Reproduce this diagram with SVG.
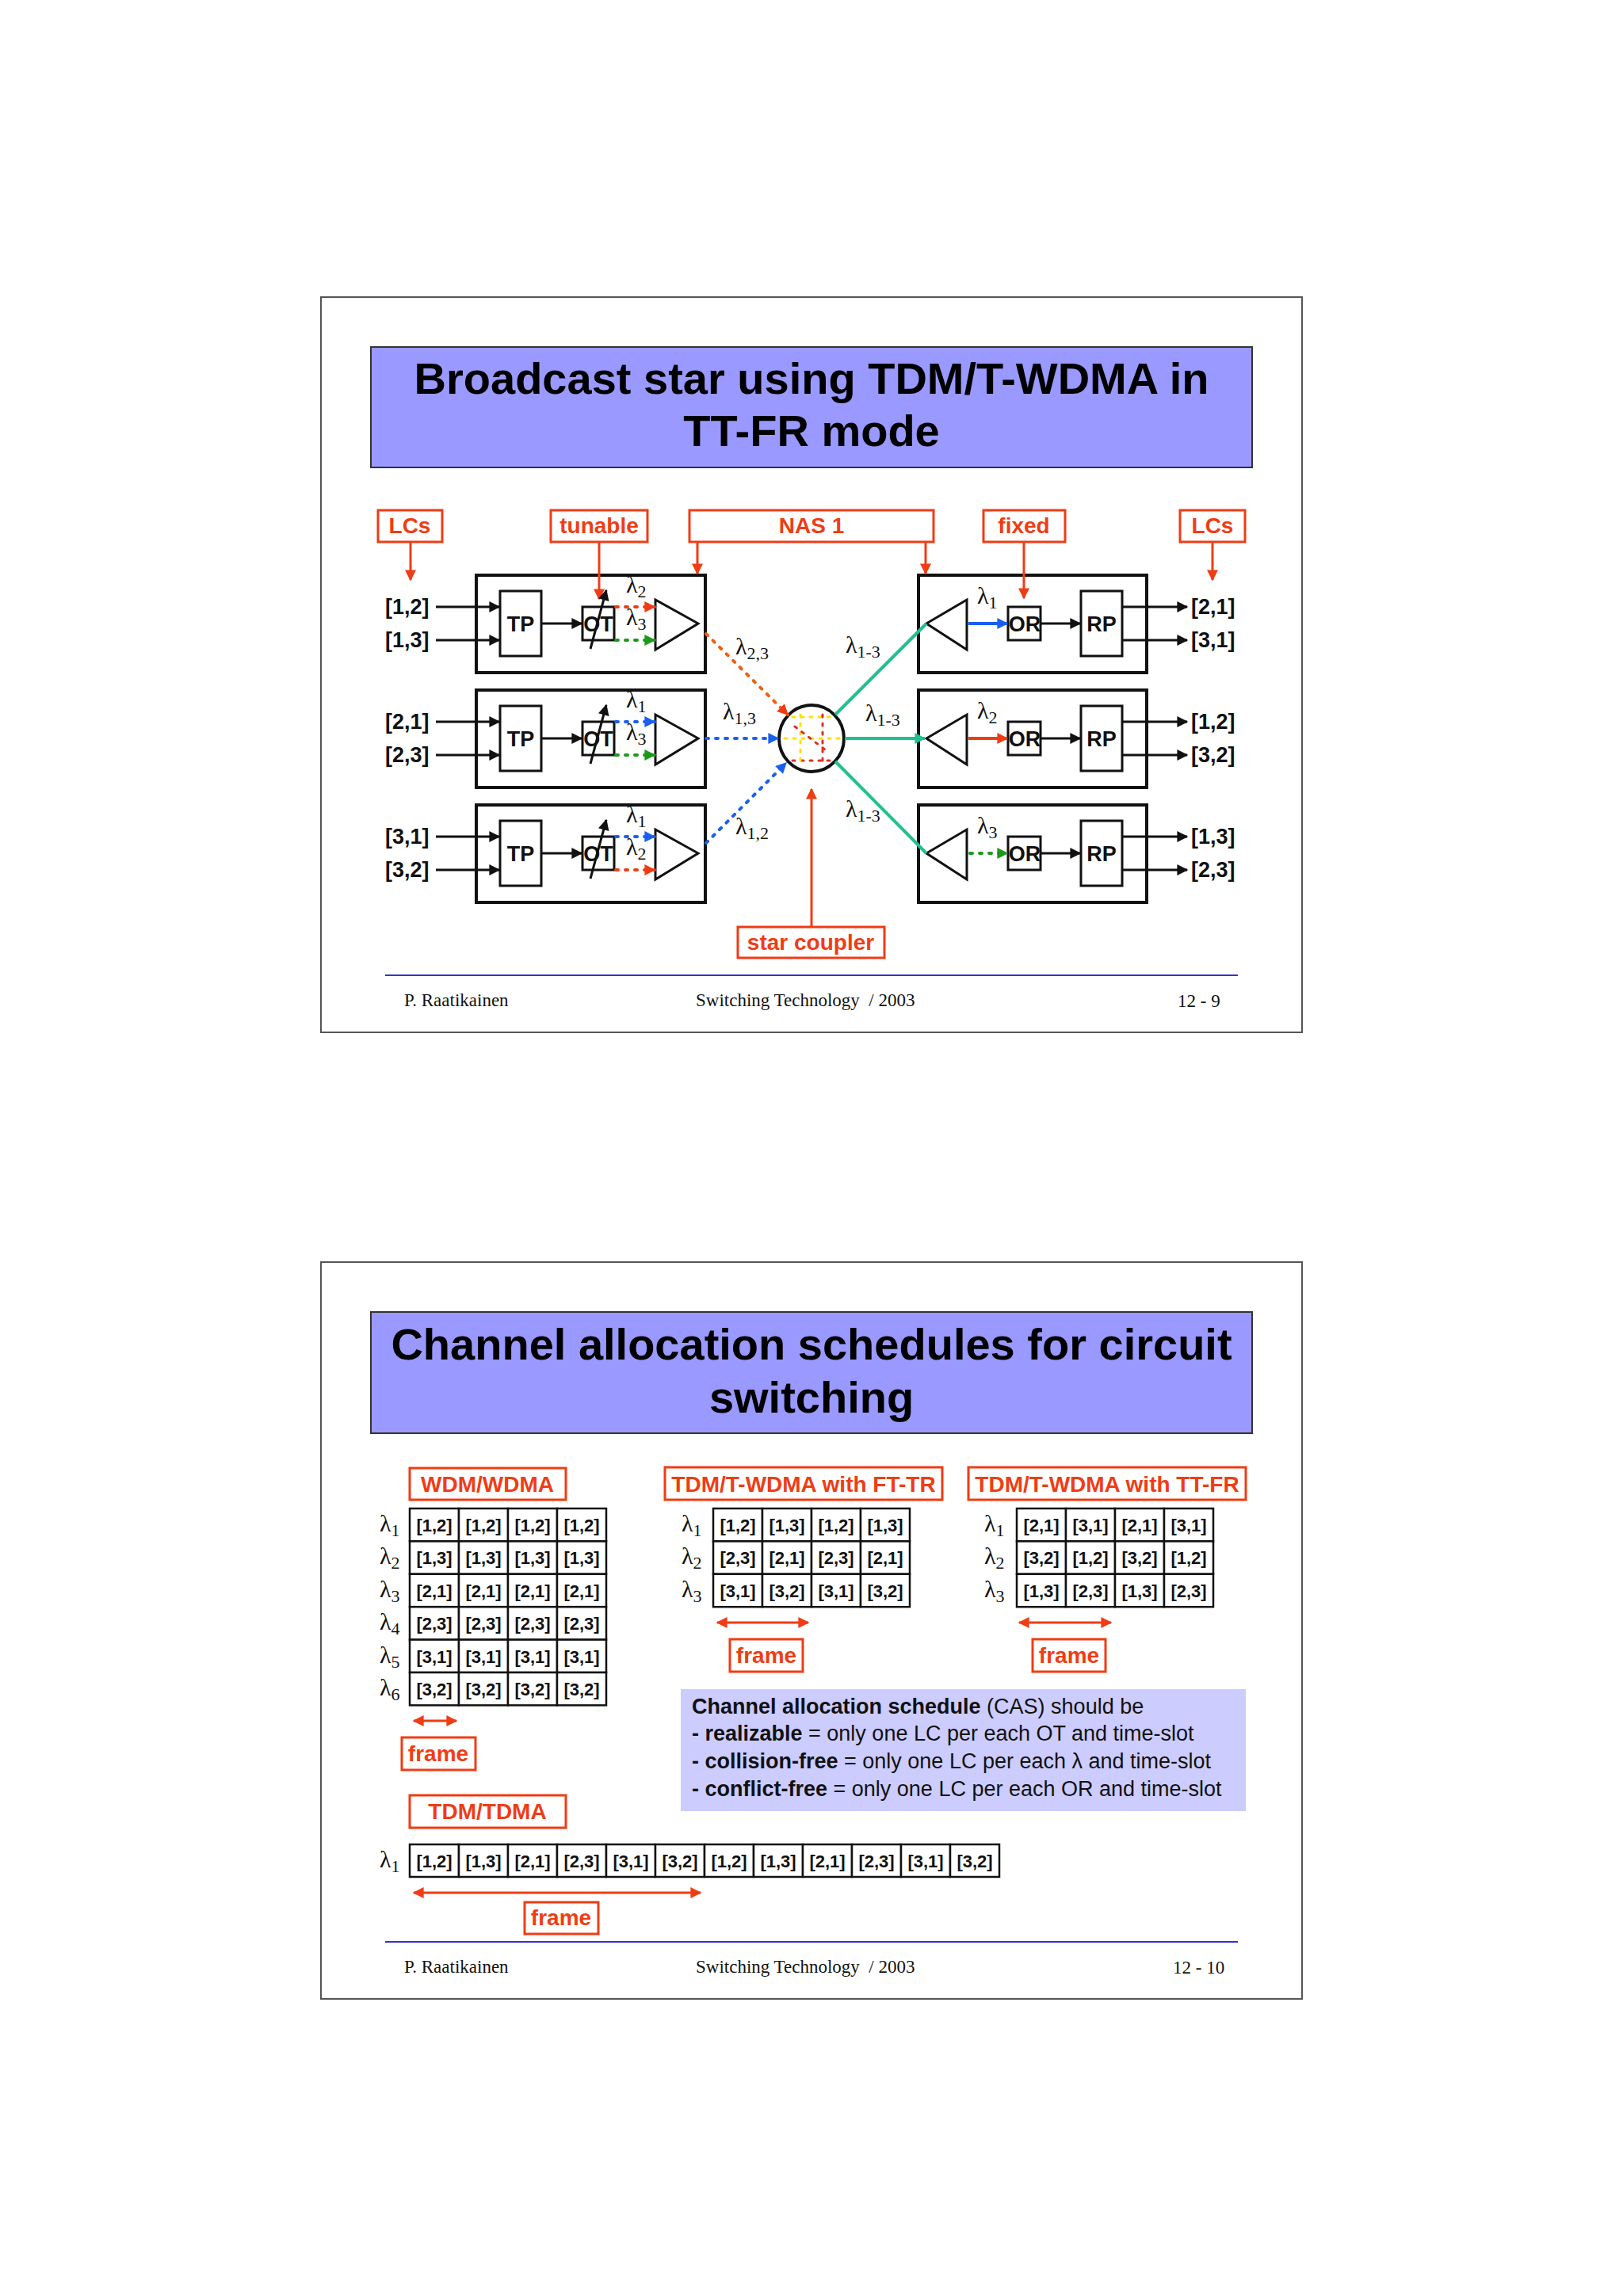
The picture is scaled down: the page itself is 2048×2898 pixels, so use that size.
<svg xmlns="http://www.w3.org/2000/svg" width="2048" height="2898" viewBox="0 0 2048 2898">
<style>
.frm{fill:#fff;stroke:#555;stroke-width:2}
.tbox{fill:#9999ff;stroke:#333;stroke-width:2}
.title{font:bold 56px "Liberation Sans",Arial,sans-serif;fill:#000;text-anchor:middle}
.rbox{fill:#fff;stroke:#f03c14;stroke-width:3}
.rt{font:bold 28px "Liberation Sans",Arial,sans-serif;fill:#f03c14;text-anchor:middle}
.blk{fill:none;stroke:#111;stroke-width:4}
.thin{fill:#fff;stroke:#111;stroke-width:3}
.lb{font:bold 27px "Liberation Sans",Arial,sans-serif;fill:#111}
.lbc{font:bold 27px "Liberation Sans",Arial,sans-serif;fill:#111;text-anchor:middle}
.lam{font:30px "Liberation Serif","Times New Roman",serif;fill:#111}
.sub{font-size:22px}
.ln{stroke:#111;stroke-width:3;fill:none}
.rl{stroke:#f03c14;stroke-width:3;fill:none}
.dot{stroke-width:4;stroke-dasharray:3 9;stroke-linecap:round;fill:none}
.foot{font:23px "Liberation Serif","Times New Roman",serif;fill:#111}
.cell{fill:#fff;stroke:#111;stroke-width:2.5}
.ct{font:bold 22px "Liberation Sans",Arial,sans-serif;fill:#111;text-anchor:middle}
.cas{font:27px "Liberation Sans",Arial,sans-serif;fill:#111}
</style>
<defs>
<marker id="akb" viewBox="0 0 10 10" refX="9" refY="5" markerWidth="16" markerHeight="14" orient="auto" markerUnits="userSpaceOnUse"><path d="M0,0 L10,5 L0,10 z" fill="#111"/></marker>
<marker id="ar" viewBox="0 0 10 10" refX="9" refY="5" markerWidth="16" markerHeight="14" orient="auto" markerUnits="userSpaceOnUse"><path d="M0,0 L10,5 L0,10 z" fill="#f03c14"/></marker>
<marker id="arS" viewBox="0 0 10 10" refX="1" refY="5" markerWidth="16" markerHeight="14" orient="auto" markerUnits="userSpaceOnUse"><path d="M10,0 L0,5 L10,10 z" fill="#f03c14"/></marker>
<marker id="abl" viewBox="0 0 10 10" refX="9" refY="5" markerWidth="16" markerHeight="14" orient="auto" markerUnits="userSpaceOnUse"><path d="M0,0 L10,5 L0,10 z" fill="#1a5ff0"/></marker>
<marker id="agr" viewBox="0 0 10 10" refX="9" refY="5" markerWidth="16" markerHeight="14" orient="auto" markerUnits="userSpaceOnUse"><path d="M0,0 L10,5 L0,10 z" fill="#1a9a1a"/></marker>
<marker id="ate" viewBox="0 0 10 10" refX="9" refY="5" markerWidth="16" markerHeight="14" orient="auto" markerUnits="userSpaceOnUse"><path d="M0,0 L10,5 L0,10 z" fill="#20c090"/></marker>
</defs>
<rect width="2048" height="2898" fill="#fff"/>

<!-- Slide 1 -->
<rect class="frm" x="405" y="375" width="1238" height="928"/>
<g id="title1">
<rect class="tbox" x="468" y="438" width="1112" height="152"/>
<text class="title" x="1024" y="497">Broadcast star using TDM/T-WDMA in</text>
<text class="title" x="1024" y="563">TT-FR mode</text>
</g>

<g id="lbl-lcs-l"><rect class="rbox" x="477" y="644" width="81" height="40"/><text class="rt" x="517" y="673">LCs</text></g>
<g id="lbl-tunable"><rect class="rbox" x="695" y="644" width="122" height="40"/><text class="rt" x="756" y="673">tunable</text></g>
<g id="lbl-nas"><rect class="rbox" x="870" y="644" width="308" height="40"/><text class="rt" x="1024" y="673">NAS 1</text></g>
<g id="lbl-fixed"><rect class="rbox" x="1241" y="644" width="103" height="40"/><text class="rt" x="1292" y="673">fixed</text></g>
<g id="lbl-lcs-r"><rect class="rbox" x="1489" y="644" width="82" height="40"/><text class="rt" x="1530" y="673">LCs</text></g>
<g id="lbl-star"><rect class="rbox" x="931" y="1170" width="185" height="39"/><text class="rt" x="1023" y="1199">star coupler</text></g>

<g id="tx1">
<rect class="blk" x="601" y="726" width="289" height="123"/>
<rect class="thin" x="631" y="746" width="52" height="82"/><text class="lbc" x="657" y="797">TP</text>
<rect class="thin" x="735" y="766" width="40" height="42"/><text class="lbc" x="755" y="797">OT</text>
<polygon class="thin" points="827,757 827,820 881,787"/>
<text class="lb" x="486" y="775">[1,2]</text><text class="lb" x="486" y="817">[1,3]</text>
<text class="lam" x="790" y="748">λ<tspan class="sub" dy="6">2</tspan></text>
<text class="lam" x="790" y="789">λ<tspan class="sub" dy="6">3</tspan></text>
</g>
<g id="tx2">
<rect class="blk" x="601" y="871" width="289" height="123"/>
<rect class="thin" x="631" y="891" width="52" height="82"/><text class="lbc" x="657" y="942">TP</text>
<rect class="thin" x="735" y="911" width="40" height="42"/><text class="lbc" x="755" y="942">OT</text>
<polygon class="thin" points="827,902 827,965 881,932"/>
<text class="lb" x="486" y="920">[2,1]</text><text class="lb" x="486" y="962">[2,3]</text>
<text class="lam" x="790" y="893">λ<tspan class="sub" dy="6">1</tspan></text>
<text class="lam" x="790" y="934">λ<tspan class="sub" dy="6">3</tspan></text>
</g>
<g id="tx3">
<rect class="blk" x="601" y="1016" width="289" height="123"/>
<rect class="thin" x="631" y="1036" width="52" height="82"/><text class="lbc" x="657" y="1087">TP</text>
<rect class="thin" x="735" y="1056" width="40" height="42"/><text class="lbc" x="755" y="1087">OT</text>
<polygon class="thin" points="827,1047 827,1110 881,1077"/>
<text class="lb" x="486" y="1065">[3,1]</text><text class="lb" x="486" y="1107">[3,2]</text>
<text class="lam" x="790" y="1038">λ<tspan class="sub" dy="6">1</tspan></text>
<text class="lam" x="790" y="1079">λ<tspan class="sub" dy="6">2</tspan></text>
</g>

<g id="rx1">
<rect class="blk" x="1159" y="726" width="288" height="123"/>
<polygon class="thin" points="1220,757 1220,820 1169,787"/>
<rect class="thin" x="1272" y="766" width="41" height="42"/><text class="lbc" x="1293" y="797">OR</text>
<rect class="thin" x="1364" y="746" width="52" height="82"/><text class="lbc" x="1390" y="797">RP</text>
<text class="lb" x="1503" y="775">[2,1]</text><text class="lb" x="1503" y="817">[3,1]</text>
<text class="lam" x="1233" y="762">λ<tspan class="sub" dy="6">1</tspan></text>
</g>
<g id="rx2">
<rect class="blk" x="1159" y="871" width="288" height="123"/>
<polygon class="thin" points="1220,902 1220,965 1169,932"/>
<rect class="thin" x="1272" y="911" width="41" height="42"/><text class="lbc" x="1293" y="942">OR</text>
<rect class="thin" x="1364" y="891" width="52" height="82"/><text class="lbc" x="1390" y="942">RP</text>
<text class="lb" x="1503" y="920">[1,2]</text><text class="lb" x="1503" y="962">[3,2]</text>
<text class="lam" x="1233" y="907">λ<tspan class="sub" dy="6">2</tspan></text>
</g>
<g id="rx3">
<rect class="blk" x="1159" y="1016" width="288" height="123"/>
<polygon class="thin" points="1220,1047 1220,1110 1169,1077"/>
<rect class="thin" x="1272" y="1056" width="41" height="42"/><text class="lbc" x="1293" y="1087">OR</text>
<rect class="thin" x="1364" y="1036" width="52" height="82"/><text class="lbc" x="1390" y="1087">RP</text>
<text class="lb" x="1503" y="1065">[1,3]</text><text class="lb" x="1503" y="1107">[2,3]</text>
<text class="lam" x="1233" y="1052">λ<tspan class="sub" dy="6">3</tspan></text>
</g>

<g id="star">
<ellipse cx="1024" cy="932" rx="41" ry="42" fill="#fff" stroke="#111" stroke-width="4"/>
<g stroke-width="3" stroke-dasharray="3 8" stroke-linecap="round" fill="none">
<path d="M1000,905 L1048,905" stroke="#ffe000"/>
<path d="M1000,960 L1048,960" stroke="#e03020"/>
<path d="M990,932 L1060,932" stroke="#ffe000"/>
<path d="M1010,902 L1010,962" stroke="#ffe000"/>
<path d="M1038,902 L1038,962" stroke="#e03020"/>
<path d="M1003,917 L1046,950" stroke="#e03020"/>
</g>
</g>

<g id="connectors">
<line class="rl" x1="518" y1="684" x2="518" y2="732" marker-end="url(#ar)"/>
<line class="rl" x1="756" y1="684" x2="756" y2="756" marker-end="url(#ar)"/>
<line class="rl" x1="880" y1="684" x2="880" y2="724" marker-end="url(#ar)"/>
<line class="rl" x1="1168" y1="684" x2="1168" y2="724" marker-end="url(#ar)"/>
<line class="rl" x1="1292" y1="684" x2="1292" y2="755" marker-end="url(#ar)"/>
<line class="rl" x1="1530" y1="684" x2="1530" y2="732" marker-end="url(#ar)"/>
<line class="rl" x1="1024" y1="1170" x2="1024" y2="996" marker-end="url(#ar)"/>
<g class="ln">
<line x1="550" y1="766" x2="630" y2="766" marker-end="url(#akb)"/>
<line x1="550" y1="808" x2="630" y2="808" marker-end="url(#akb)"/>
<line x1="683" y1="787" x2="734" y2="787" marker-end="url(#akb)"/>
<line x1="745" y1="819" x2="765" y2="745" marker-end="url(#akb)"/>
<line x1="550" y1="911" x2="630" y2="911" marker-end="url(#akb)"/>
<line x1="550" y1="953" x2="630" y2="953" marker-end="url(#akb)"/>
<line x1="683" y1="932" x2="734" y2="932" marker-end="url(#akb)"/>
<line x1="745" y1="964" x2="765" y2="890" marker-end="url(#akb)"/>
<line x1="550" y1="1056" x2="630" y2="1056" marker-end="url(#akb)"/>
<line x1="550" y1="1098" x2="630" y2="1098" marker-end="url(#akb)"/>
<line x1="683" y1="1077" x2="734" y2="1077" marker-end="url(#akb)"/>
<line x1="745" y1="1109" x2="765" y2="1035" marker-end="url(#akb)"/>
<line x1="1313" y1="787" x2="1363" y2="787" marker-end="url(#akb)"/>
<line x1="1416" y1="766" x2="1498" y2="766" marker-end="url(#akb)"/>
<line x1="1416" y1="808" x2="1498" y2="808" marker-end="url(#akb)"/>
<line x1="1313" y1="932" x2="1363" y2="932" marker-end="url(#akb)"/>
<line x1="1416" y1="911" x2="1498" y2="911" marker-end="url(#akb)"/>
<line x1="1416" y1="953" x2="1498" y2="953" marker-end="url(#akb)"/>
<line x1="1313" y1="1077" x2="1363" y2="1077" marker-end="url(#akb)"/>
<line x1="1416" y1="1056" x2="1498" y2="1056" marker-end="url(#akb)"/>
<line x1="1416" y1="1098" x2="1498" y2="1098" marker-end="url(#akb)"/>
</g>
<line class="dot" stroke="#f03c14" x1="777" y1="766" x2="826" y2="766" marker-end="url(#ar)"/>
<line class="dot" stroke="#1a9a1a" x1="777" y1="808" x2="826" y2="808" marker-end="url(#agr)"/>
<line class="dot" stroke="#1a5ff0" x1="777" y1="911" x2="826" y2="911" marker-end="url(#abl)"/>
<line class="dot" stroke="#1a9a1a" x1="777" y1="953" x2="826" y2="953" marker-end="url(#agr)"/>
<line class="dot" stroke="#1a5ff0" x1="777" y1="1056" x2="826" y2="1056" marker-end="url(#abl)"/>
<line class="dot" stroke="#f03c14" x1="777" y1="1098" x2="826" y2="1098" marker-end="url(#ar)"/>
<line class="dot" stroke="#f06010" x1="891" y1="800" x2="994" y2="902" marker-end="url(#ar)"/>
<line class="dot" stroke="#1a5ff0" x1="891" y1="932" x2="982" y2="932" marker-end="url(#abl)"/>
<line class="dot" stroke="#1a5ff0" x1="891" y1="1064" x2="992" y2="963" marker-end="url(#abl)"/>
<line stroke="#20c090" stroke-width="4" x1="1054" y1="902" x2="1169" y2="787"/>
<line stroke="#20c090" stroke-width="4" x1="1066" y1="932" x2="1167" y2="932" marker-end="url(#ate)"/>
<line stroke="#20c090" stroke-width="4" x1="1054" y1="961" x2="1169" y2="1077"/>
<line stroke="#1a5ff0" stroke-width="4" x1="1222" y1="787" x2="1271" y2="787" marker-end="url(#abl)"/>
<line stroke="#f03c14" stroke-width="4" x1="1222" y1="932" x2="1271" y2="932" marker-end="url(#ar)"/>
<line class="dot" stroke="#1a9a1a" x1="1224" y1="1077" x2="1271" y2="1077" marker-end="url(#agr)"/>
</g>

<g id="lambda-labels">
<text class="lam" x="928" y="826">λ<tspan class="sub" dy="6">2,3</tspan></text>
<text class="lam" x="912" y="908">λ<tspan class="sub" dy="6">1,3</tspan></text>
<text class="lam" x="928" y="1053">λ<tspan class="sub" dy="6">1,2</tspan></text>
<text class="lam" x="1067" y="824">λ<tspan class="sub" dy="6">1-3</tspan></text>
<text class="lam" x="1092" y="910">λ<tspan class="sub" dy="6">1-3</tspan></text>
<text class="lam" x="1067" y="1031">λ<tspan class="sub" dy="6">1-3</tspan></text>
</g>

<g id="footer1">
<line x1="486" y1="1231" x2="1562" y2="1231" stroke="#3333cc" stroke-width="2"/>
<text class="foot" x="510" y="1270">P. Raatikainen</text>
<text class="foot" x="878" y="1270" xml:space="preserve">Switching Technology  / 2003</text>
<text class="foot" x="1486" y="1271">12 - 9</text>
</g>

<!-- Slide 2 -->
<rect class="frm" x="405" y="1593" width="1238" height="930"/>
<g id="title2">
<rect class="tbox" x="468" y="1656" width="1112" height="153"/>
<text class="title" x="1024" y="1716">Channel allocation schedules for circuit</text>
<text class="title" x="1024" y="1783">switching</text>
</g>

<g id="lbl-wdm"><rect class="rbox" x="517" y="1853" width="197" height="40"/><text class="rt" x="615" y="1883">WDM/WDMA</text></g>
<g id="lbl-fttr"><rect class="rbox" x="839" y="1852" width="350" height="41"/><text class="rt" x="1014" y="1883">TDM/T-WDMA with FT-TR</text></g>
<g id="lbl-ttfr"><rect class="rbox" x="1222" y="1852" width="350" height="41"/><text class="rt" x="1397" y="1883">TDM/T-WDMA with TT-FR</text></g>
<g id="lbl-tdma"><rect class="rbox" x="517" y="2266" width="197" height="41"/><text class="rt" x="615" y="2296">TDM/TDMA</text></g>
<g id="lbl-frame1"><rect class="rbox" x="507" y="2193" width="93" height="41"/><text class="rt" x="553" y="2223">frame</text></g>
<g id="lbl-frame2"><rect class="rbox" x="921" y="2069" width="92" height="41"/><text class="rt" x="967" y="2099">frame</text></g>
<g id="lbl-frame3"><rect class="rbox" x="1303" y="2069" width="92" height="41"/><text class="rt" x="1349" y="2099">frame</text></g>
<g id="lbl-frame4"><rect class="rbox" x="662" y="2401" width="93" height="40"/><text class="rt" x="708" y="2430">frame</text></g>

<g id="frame-arrows">
<line class="rl" stroke-width="4" x1="522" y1="2172" x2="576" y2="2172" marker-start="url(#arS)" marker-end="url(#ar)"/>
<line class="rl" stroke-width="4" x1="905" y1="2048" x2="1020" y2="2048" marker-start="url(#arS)" marker-end="url(#ar)"/>
<line class="rl" stroke-width="4" x1="1286" y1="2048" x2="1402" y2="2048" marker-start="url(#arS)" marker-end="url(#ar)"/>
<line class="rl" stroke-width="4" x1="522" y1="2389" x2="884" y2="2389" marker-start="url(#arS)" marker-end="url(#ar)"/>
</g>

<g id="table-wdm">
<rect class="cell" x="517" y="1904" width="62" height="41.4"/><rect class="cell" x="579" y="1904" width="62" height="41.4"/><rect class="cell" x="641" y="1904" width="62" height="41.4"/><rect class="cell" x="703" y="1904" width="62" height="41.4"/>
<rect class="cell" x="517" y="1945.4" width="62" height="41.4"/><rect class="cell" x="579" y="1945.4" width="62" height="41.4"/><rect class="cell" x="641" y="1945.4" width="62" height="41.4"/><rect class="cell" x="703" y="1945.4" width="62" height="41.4"/>
<rect class="cell" x="517" y="1986.8" width="62" height="41.4"/><rect class="cell" x="579" y="1986.8" width="62" height="41.4"/><rect class="cell" x="641" y="1986.8" width="62" height="41.4"/><rect class="cell" x="703" y="1986.8" width="62" height="41.4"/>
<rect class="cell" x="517" y="2028.2" width="62" height="41.4"/><rect class="cell" x="579" y="2028.2" width="62" height="41.4"/><rect class="cell" x="641" y="2028.2" width="62" height="41.4"/><rect class="cell" x="703" y="2028.2" width="62" height="41.4"/>
<rect class="cell" x="517" y="2069.6" width="62" height="41.4"/><rect class="cell" x="579" y="2069.6" width="62" height="41.4"/><rect class="cell" x="641" y="2069.6" width="62" height="41.4"/><rect class="cell" x="703" y="2069.6" width="62" height="41.4"/>
<rect class="cell" x="517" y="2111" width="62" height="41.4"/><rect class="cell" x="579" y="2111" width="62" height="41.4"/><rect class="cell" x="641" y="2111" width="62" height="41.4"/><rect class="cell" x="703" y="2111" width="62" height="41.4"/>
<text class="ct" y="1933"><tspan x="548">[1,2]</tspan><tspan x="610">[1,2]</tspan><tspan x="672">[1,2]</tspan><tspan x="734">[1,2]</tspan></text>
<text class="ct" y="1974"><tspan x="548">[1,3]</tspan><tspan x="610">[1,3]</tspan><tspan x="672">[1,3]</tspan><tspan x="734">[1,3]</tspan></text>
<text class="ct" y="2016"><tspan x="548">[2,1]</tspan><tspan x="610">[2,1]</tspan><tspan x="672">[2,1]</tspan><tspan x="734">[2,1]</tspan></text>
<text class="ct" y="2057"><tspan x="548">[2,3]</tspan><tspan x="610">[2,3]</tspan><tspan x="672">[2,3]</tspan><tspan x="734">[2,3]</tspan></text>
<text class="ct" y="2099"><tspan x="548">[3,1]</tspan><tspan x="610">[3,1]</tspan><tspan x="672">[3,1]</tspan><tspan x="734">[3,1]</tspan></text>
<text class="ct" y="2140"><tspan x="548">[3,2]</tspan><tspan x="610">[3,2]</tspan><tspan x="672">[3,2]</tspan><tspan x="734">[3,2]</tspan></text>
<text class="lam" x="479" y="1933">λ<tspan class="sub" dy="6">1</tspan></text>
<text class="lam" x="479" y="1974">λ<tspan class="sub" dy="6">2</tspan></text>
<text class="lam" x="479" y="2016">λ<tspan class="sub" dy="6">3</tspan></text>
<text class="lam" x="479" y="2057">λ<tspan class="sub" dy="6">4</tspan></text>
<text class="lam" x="479" y="2099">λ<tspan class="sub" dy="6">5</tspan></text>
<text class="lam" x="479" y="2140">λ<tspan class="sub" dy="6">6</tspan></text>
</g>

<g id="table-fttr">
<rect class="cell" x="900" y="1904" width="62" height="41.4"/><rect class="cell" x="962" y="1904" width="62" height="41.4"/><rect class="cell" x="1024" y="1904" width="62" height="41.4"/><rect class="cell" x="1086" y="1904" width="62" height="41.4"/>
<rect class="cell" x="900" y="1945.4" width="62" height="41.4"/><rect class="cell" x="962" y="1945.4" width="62" height="41.4"/><rect class="cell" x="1024" y="1945.4" width="62" height="41.4"/><rect class="cell" x="1086" y="1945.4" width="62" height="41.4"/>
<rect class="cell" x="900" y="1986.8" width="62" height="41.4"/><rect class="cell" x="962" y="1986.8" width="62" height="41.4"/><rect class="cell" x="1024" y="1986.8" width="62" height="41.4"/><rect class="cell" x="1086" y="1986.8" width="62" height="41.4"/>
<text class="ct" y="1933"><tspan x="931">[1,2]</tspan><tspan x="993">[1,3]</tspan><tspan x="1055">[1,2]</tspan><tspan x="1117">[1,3]</tspan></text>
<text class="ct" y="1974"><tspan x="931">[2,3]</tspan><tspan x="993">[2,1]</tspan><tspan x="1055">[2,3]</tspan><tspan x="1117">[2,1]</tspan></text>
<text class="ct" y="2016"><tspan x="931">[3,1]</tspan><tspan x="993">[3,2]</tspan><tspan x="1055">[3,1]</tspan><tspan x="1117">[3,2]</tspan></text>
<text class="lam" x="860" y="1933">λ<tspan class="sub" dy="6">1</tspan></text>
<text class="lam" x="860" y="1974">λ<tspan class="sub" dy="6">2</tspan></text>
<text class="lam" x="860" y="2016">λ<tspan class="sub" dy="6">3</tspan></text>
</g>

<g id="table-ttfr">
<rect class="cell" x="1283" y="1904" width="62" height="41.4"/><rect class="cell" x="1345" y="1904" width="62" height="41.4"/><rect class="cell" x="1407" y="1904" width="62" height="41.4"/><rect class="cell" x="1469" y="1904" width="62" height="41.4"/>
<rect class="cell" x="1283" y="1945.4" width="62" height="41.4"/><rect class="cell" x="1345" y="1945.4" width="62" height="41.4"/><rect class="cell" x="1407" y="1945.4" width="62" height="41.4"/><rect class="cell" x="1469" y="1945.4" width="62" height="41.4"/>
<rect class="cell" x="1283" y="1986.8" width="62" height="41.4"/><rect class="cell" x="1345" y="1986.8" width="62" height="41.4"/><rect class="cell" x="1407" y="1986.8" width="62" height="41.4"/><rect class="cell" x="1469" y="1986.8" width="62" height="41.4"/>
<text class="ct" y="1933"><tspan x="1314">[2,1]</tspan><tspan x="1376">[3,1]</tspan><tspan x="1438">[2,1]</tspan><tspan x="1500">[3,1]</tspan></text>
<text class="ct" y="1974"><tspan x="1314">[3,2]</tspan><tspan x="1376">[1,2]</tspan><tspan x="1438">[3,2]</tspan><tspan x="1500">[1,2]</tspan></text>
<text class="ct" y="2016"><tspan x="1314">[1,3]</tspan><tspan x="1376">[2,3]</tspan><tspan x="1438">[1,3]</tspan><tspan x="1500">[2,3]</tspan></text>
<text class="lam" x="1242" y="1933">λ<tspan class="sub" dy="6">1</tspan></text>
<text class="lam" x="1242" y="1974">λ<tspan class="sub" dy="6">2</tspan></text>
<text class="lam" x="1242" y="2016">λ<tspan class="sub" dy="6">3</tspan></text>
</g>

<g id="table-tdma">
<rect class="cell" x="517" y="2328" width="62" height="41"/><rect class="cell" x="579" y="2328" width="62" height="41"/><rect class="cell" x="641" y="2328" width="62" height="41"/><rect class="cell" x="703" y="2328" width="62" height="41"/><rect class="cell" x="765" y="2328" width="62" height="41"/><rect class="cell" x="827" y="2328" width="62" height="41"/>
<rect class="cell" x="889" y="2328" width="62" height="41"/><rect class="cell" x="951" y="2328" width="62" height="41"/><rect class="cell" x="1013" y="2328" width="62" height="41"/><rect class="cell" x="1075" y="2328" width="62" height="41"/><rect class="cell" x="1137" y="2328" width="62" height="41"/><rect class="cell" x="1199" y="2328" width="62" height="41"/>
<text class="ct" y="2357"><tspan x="548">[1,2]</tspan><tspan x="610">[1,3]</tspan><tspan x="672">[2,1]</tspan><tspan x="734">[2,3]</tspan><tspan x="796">[3,1]</tspan><tspan x="858">[3,2]</tspan><tspan x="920">[1,2]</tspan><tspan x="982">[1,3]</tspan><tspan x="1044">[2,1]</tspan><tspan x="1106">[2,3]</tspan><tspan x="1168">[3,1]</tspan><tspan x="1230">[3,2]</tspan></text>
<text class="lam" x="479" y="2357">λ<tspan class="sub" dy="6">1</tspan></text>
</g>

<g id="cas">
<rect x="859" y="2132" width="713" height="154" fill="#ccccff"/>
<text class="cas" x="873" y="2163"><tspan font-weight="bold">Channel allocation schedule</tspan> (CAS) should be</text>
<text class="cas" x="873" y="2197"><tspan font-weight="bold">- realizable</tspan> = only one LC per each OT and time-slot</text>
<text class="cas" x="873" y="2232"><tspan font-weight="bold">- collision-free</tspan> = only one LC per each λ and time-slot</text>
<text class="cas" x="873" y="2267"><tspan font-weight="bold">- conflict-free</tspan> = only one LC per each OR and time-slot</text>
</g>

<g id="footer2">
<line x1="486" y1="2451" x2="1562" y2="2451" stroke="#3333cc" stroke-width="2"/>
<text class="foot" x="510" y="2490">P. Raatikainen</text>
<text class="foot" x="878" y="2490" xml:space="preserve">Switching Technology  / 2003</text>
<text class="foot" x="1480" y="2491">12 - 10</text>
</g>
</svg>
